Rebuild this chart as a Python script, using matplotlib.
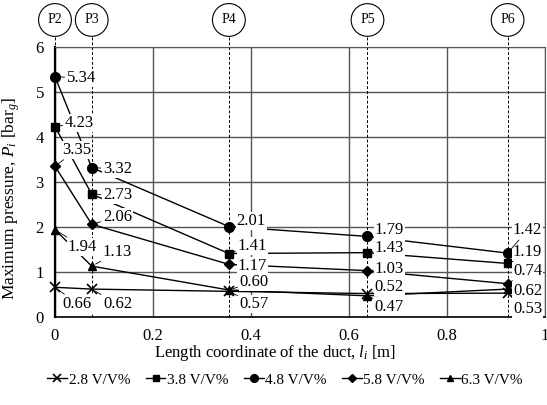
import matplotlib
matplotlib.use("Agg")
import matplotlib.pyplot as plt
import matplotlib.transforms as mtransforms

plt.rcParams['font.family'] = ['Liberation Serif', 'DejaVu Serif']
plt.rcParams['mathtext.fontset'] = 'custom'
plt.rcParams['mathtext.it'] = 'Liberation Serif:italic'
plt.rcParams['mathtext.rm'] = 'Liberation Serif'

# positions of the pressure sensors along the duct
sensor_names = ['P2', 'P3', 'P4', 'P5', 'P6']
sensor_x = [0.0, 0.075, 0.355, 0.638, 0.924]

# max pressure per concentration
series_labels = ['2.8 V/V%', '3.8 V/V%', '4.8 V/V%', '5.8 V/V%', '6.3 V/V%']
series_markers = ['x', 's', 'o', 'D', '^']
p_28 = [0.66, 0.62, 0.57, 0.52, 0.53]
p_38 = [4.23, 2.73, 1.41, 1.43, 1.19]
p_48 = [5.34, 3.32, 2.01, 1.79, 1.42]
p_58 = [3.35, 2.06, 1.17, 1.03, 0.74]
p_63 = [1.94, 1.13, 0.60, 0.47, 0.62]
series_values = [p_28, p_38, p_48, p_58, p_63]

# where each value label sits (data coords, left edge / centre)
label_pos = {
    (0, 0): (0.016, 0.29), (0, 1): (0.098, 0.29), (0, 2): (0.377, 0.29),
    (0, 3): (0.653, 0.67), (0, 4): (0.935, 0.18),
    (1, 0): (0.020, 4.31), (1, 1): (0.098, 2.71), (1, 2): (0.373, 1.58),
    (1, 3): (0.653, 1.53), (1, 4): (0.935, 1.44),
    (2, 0): (0.024, 5.31), (2, 1): (0.098, 3.29), (2, 2): (0.371, 2.13),
    (2, 3): (0.653, 1.93), (2, 4): (0.935, 1.93),
    (3, 0): (0.014, 3.71), (3, 1): (0.098, 2.22), (3, 2): (0.373, 1.13),
    (3, 3): (0.653, 1.07), (3, 4): (0.935, 1.02),
    (4, 0): (0.026, 1.56), (4, 1): (0.098, 1.44), (4, 2): (0.377, 0.78),
    (4, 3): (0.653, 0.22), (4, 4): (0.935, 0.58),
}

fig = plt.figure(figsize=(5.47, 4.05), dpi=100)
ax = fig.add_axes([0.1005, 0.2173, 0.8955, 0.6667])

ax.set_xlim(0, 1)
ax.set_ylim(0, 6)
ax.set_xticks([0, 0.2, 0.4, 0.6, 0.8, 1])
ax.set_xticklabels(['0', '0.2', '0.4', '0.6', '0.8', '1'])
ax.set_yticks(range(7))
ax.tick_params(length=0, labelsize=12, pad=8)
ax.grid(True, color='#555555', lw=1)
for s in ax.spines.values():
    s.set_color('#555555')
ax.spines['left'].set_color('black')
ax.spines['left'].set_linewidth(1.6)
ax.spines['bottom'].set_color('black')
ax.spines['bottom'].set_linewidth(1.2)

# sensor bubbles + dashed guide lines
trans = mtransforms.blended_transform_factory(ax.transData, ax.transAxes)
for name, x in zip(sensor_names, sensor_x):
    ax.plot([x, x], [0, 1.045], transform=trans, color='black', ls=(0, (3, 2)),
            lw=0.7, clip_on=False, zorder=2)
    ax.text(x, 1.1, name, transform=trans, ha='center', va='center', fontsize=10,
            bbox=dict(boxstyle='circle,pad=0.65', fc='white', ec='black', lw=0.8),
            zorder=5)

for i, (vals, lab, mk) in enumerate(zip(series_values, series_labels, series_markers)):
    ms = 7 if mk in ('x', 'o') else 6
    if mk == 'D':
        ms = 5
    ax.plot(sensor_x, vals, color='black', lw=1, marker=mk, ms=ms,
            mew=1.2 if mk == 'x' else 1, label=lab, zorder=3, clip_on=False)
    for j, v in enumerate(vals):
        tx, ty = label_pos[(i, j)]
        ax.annotate(f'{v:.2f}', xy=(sensor_x[j], v), xytext=(tx, ty),
                    fontsize=12, ha='left', va='center', zorder=4,
                    bbox=dict(boxstyle='square,pad=0.05', fc='white', ec='none'),
                    arrowprops=dict(arrowstyle='-', lw=0.6, color='black',
                                    shrinkA=1, shrinkB=3))

ax.set_xlabel('Length coordinate of the duct, $l_i$ [m]', fontsize=12)
ax.xaxis.set_label_coords(0.45, -0.095)
ax.set_ylabel('Maximum pressure, $P_i$ [bar$_g$]', fontsize=12.5)
ax.yaxis.set_label_coords(-0.068, 0.44)

ax.legend(loc='upper center', bbox_to_anchor=(0.47, -0.185), ncol=5, frameon=False,
          fontsize=11, handlelength=1.3, handletextpad=0.1, columnspacing=1.0,
          markerscale=0.8, borderaxespad=0)

fig.savefig('out.png', dpi=100)
